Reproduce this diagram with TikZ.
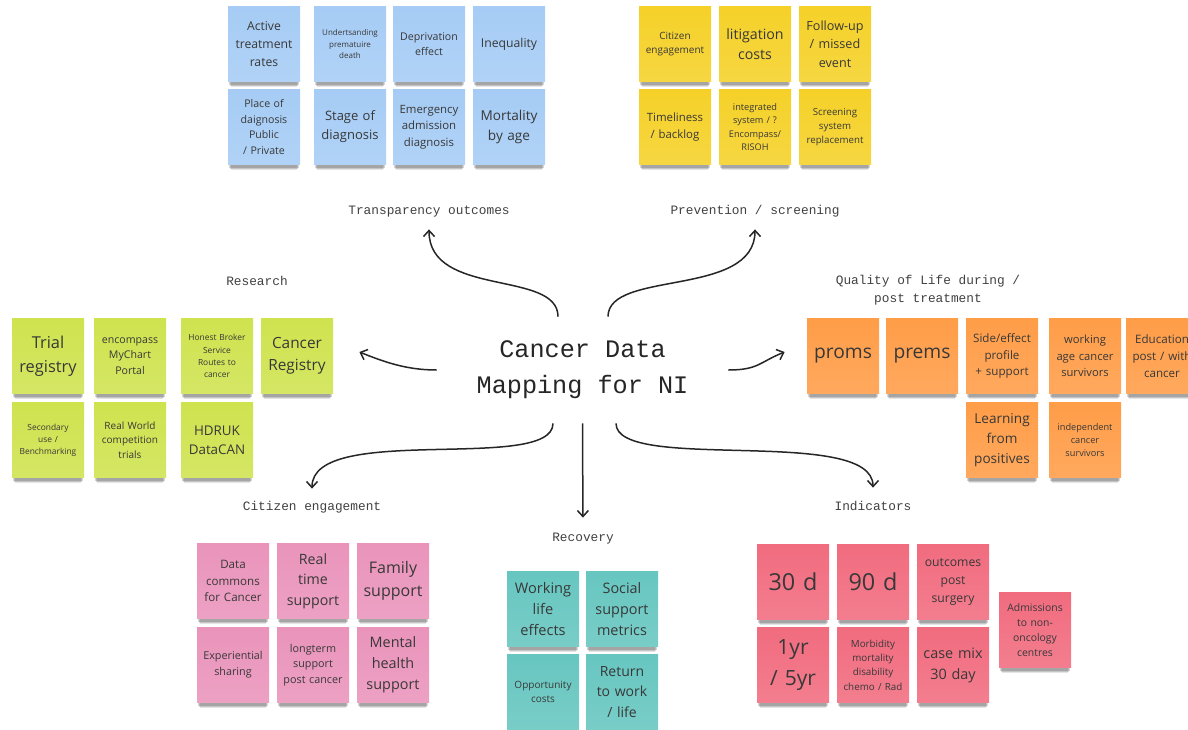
\documentclass[tikz,border=0pt]{standalone}
\usepackage{fontspec}
\setmainfont{Open Sans}
\newfontfamily\sketchfont{Liberation Mono}
\usepackage{tikz}
\usetikzlibrary{arrows.meta,shadows}

\definecolor{noteblue}{HTML}{A6CCF5}
\definecolor{noteyellow}{HTML}{F5D128}
\definecolor{notelime}{HTML}{CFE34F}
\definecolor{noteorange}{HTML}{FF9D48}
\definecolor{notepink}{HTML}{EA94BB}
\definecolor{noteteal}{HTML}{67C6C0}
\definecolor{notered}{HTML}{F16C7F}

% font size with matching line spacing
\newcommand{\notefont}[1]{\fontsize{#1}{\dimexpr#1pt*29/20\relax}\selectfont}

\begin{document}
\begin{tikzpicture}[
    x=0.5pt, y=-0.5pt,
    note/.style={rectangle, minimum width=36pt, minimum height=37.5pt, inner sep=0pt, text width=35pt, align=center, text=black!78,
        drop shadow={shadow xshift=0pt, shadow yshift=-2.2pt, shadow scale=0.97, opacity=0.16, fill=black},
        drop shadow={shadow xshift=0pt, shadow yshift=-3.4pt, shadow scale=0.94, opacity=0.14, fill=black},
        drop shadow={shadow xshift=0pt, shadow yshift=-4.6pt, shadow scale=0.91, opacity=0.10, fill=black}},
    blue note/.style={note, top color=noteblue, bottom color=noteblue!88!white},
    yellow note/.style={note, top color=noteyellow, bottom color=noteyellow!88!white},
    lime note/.style={note, top color=notelime, bottom color=notelime!88!white},
    orange note/.style={note, top color=noteorange, bottom color=noteorange!88!white},
    pink note/.style={note, top color=notepink, bottom color=notepink!88!white},
    teal note/.style={note, top color=noteteal, bottom color=noteteal!88!white},
    red note/.style={note, top color=notered, bottom color=notered!88!white},
    hub/.style={font=\sketchfont\fontsize{12.6}{18}\selectfont, text=black!85, align=center, minimum width=145.5pt, minimum height=53pt, inner sep=0pt},
    topic/.style={font=\sketchfont\fontsize{6.4}{9}\selectfont, text=black!75, align=center, inner sep=0pt},
    heading/.style={topic, text height=5pt, text depth=1.5pt},
    link/.style={line width=0.75pt, black!85, -{Straight Barb[length=3pt, width=5.5pt]}},
]
\useasboundingbox (0,0) rectangle (1188,729);
\clip (0,0) rectangle (1188,729);

% Centre and the branch headings
\node[hub] (title) at (582.5,370) {Cancer Data\\Mapping for NI};
\node[heading] (transp) at (429,211) {Transparency outcomes};
\node[heading] (prevent) at (755,211) {Prevention / screening};
\node[topic] (research) at (257,281) {Research};
\node[topic] (quality) at (928,290) {Quality of Life during /\\post treatment};
\node[heading] (citizen) at (312,507) {Citizen engagement};
\node[heading] (recovery) at (583,538) {Recovery};
\node[heading] (indic) at (873,507) {Indicators};

% Transparency outcomes
\node[blue note, font=\notefont{6.1}] (active) at (264,44) {Active\\treatment\\rates};
\node[blue note, font=\notefont{4.0}] (premature) at (350,44) {Undertsanding\\prematuire\\death};
\node[blue note, font=\notefont{5.3}] (depriv) at (429,44) {Deprivation\\effect};
\node[blue note, font=\notefont{6.1}] (inequal) at (509,44) {Inequality};
\node[blue note, font=\notefont{5.3}] (place) at (264,127) {Place of\\daignosis\\Public\\/ Private};
\node[blue note, font=\notefont{6.5}] (stage) at (350,127) {Stage of\\diagnosis};
\node[blue note, font=\notefont{5.7}] (emerg) at (429,127) {Emergency\\admission\\diagnosis};
\node[blue note, font=\notefont{6.8}] (mortage) at (509,127) {Mortality\\by age};

% Prevention / screening
\node[yellow note, font=\notefont{5.0}] (engage) at (675,44) {Citizen\\engagement};
\node[yellow note, font=\notefont{7.1}] (litig) at (755,44) {litigation\\costs};
\node[yellow note, font=\notefont{6.3}] (follow) at (835,44) {Follow-up\\/ missed\\event};
\node[yellow note, font=\notefont{5.7}] (timely) at (675,127) {Timeliness\\/ backlog};
\node[yellow note, font=\notefont{4.6}] (integ) at (755,127) {integrated\\system / ?\\Encompass/\\RISOH};
\node[yellow note, font=\notefont{4.85}] (screen) at (835,127) {Screening\\system\\replacement};

% Research
\node[lime note, font=\notefont{8.2}] (trial) at (48,356) {Trial\\registry};
\node[lime note, font=\notefont{5.3}] (mychart) at (130,356) {encompass\\MyChart\\Portal};
\node[lime note, font=\notefont{4.2}] (broker) at (217,356) {Honest Broker\\Service\\Routes to\\cancer};
\node[lime note, font=\notefont{7.7}] (registry) at (297,356) {Cancer\\Registry};
\node[lime note, font=\notefont{4.2}] (secondary) at (48,440) {Secondary\\use /\\Benchmarking};
\node[lime note, font=\notefont{5.0}] (realworld) at (130,440) {Real World\\competition\\trials};
\node[lime note, font=\notefont{6.7}] (hdruk) at (217,440) {HDRUK\\DataCAN};

% Quality of life
\node[orange note, font=\notefont{9.6}] (proms) at (843,356) {proms};
\node[orange note, font=\notefont{9.6}] (prems) at (922,356) {prems};
\node[orange note, font=\notefont{5.8}] (sideeff) at (1002,356) {Side/effect\\profile\\+ support};
\node[orange note, font=\notefont{5.6}] (workage) at (1085,356) {working\\age cancer\\survivors};
\node[orange note, font=\notefont{5.8}] (educ) at (1162,356) {Education\\post / with\\cancer};
\node[orange note, font=\notefont{6.8}] (learn) at (1002,440) {Learning\\from\\positives};
\node[orange note, font=\notefont{4.6}] (indep) at (1085,440) {independent\\cancer\\survivors};

% Citizen engagement
\node[pink note, font=\notefont{5.8}] (commons) at (233,581) {Data\\commons\\for Cancer};
\node[pink note, font=\notefont{7.1}] (realtime) at (313,581) {Real\\time\\support};
\node[pink note, font=\notefont{8.0}] (family) at (393,581) {Family\\support};
\node[pink note, font=\notefont{5.4}] (experient) at (233,665) {Experiential\\sharing};
\node[pink note, font=\notefont{5.4}] (longterm) at (313,665) {longterm\\support\\post cancer};
\node[pink note, font=\notefont{7.2}] (mental) at (393,665) {Mental\\health\\support};

% Recovery
\node[teal note, font=\notefont{7.3}] (worklife) at (543,609) {Working\\life\\effects};
\node[teal note, font=\notefont{7.2}] (social) at (622,609) {Social\\support\\metrics};
\node[teal note, font=\notefont{5.0}] (opport) at (543,692) {Opportunity\\costs};
\node[teal note, font=\notefont{7.0}] (return) at (622,692) {Return\\to work\\/ life};

% Indicators
\node[red note, font=\notefont{11.7}] (d30) at (793,582) {30 d};
\node[red note, font=\notefont{11.7}] (d90) at (873,582) {90 d};
\node[red note, font=\notefont{6.1}] (surgery) at (953,582) {outcomes\\post\\surgery};
\node[red note, font=\notefont{10.5}] (yr15) at (793,665) {1yr\\/ 5yr};
\node[red note, font=\notefont{4.9}] (morbid) at (873,665) {Morbidity\\mortality\\disability\\chemo / Rad};
\node[red note, font=\notefont{7.2}] (casemix) at (953,665) {case mix\\30 day};
\node[red note, font=\notefont{5.2}] (admiss) at (1035,630) {Admissions\\to non-\\oncology\\centres};

% Branches out of the centre
\draw[link, shorten >=5.75pt] ([xshift=-12.25pt]title.north) .. controls +(0,-47) and +(0,80) .. (transp.south);
\draw[link, shorten >=5.75pt] ([xshift=12.75pt]title.north) .. controls +(0,-47) and +(0,80) .. (prevent.south);
\draw[link] (title.west) .. controls +(-30,0) and +(25,10) .. ([xshift=13pt,yshift=2pt]registry.east);
\draw[link] (title.east) .. controls +(30,0) and +(-25,10) .. ([xshift=-11pt,yshift=2pt]proms.west);
\draw[link, shorten >=5.75pt] ([xshift=-14.75pt]title.south) .. controls +(0,50) and +(0,-78) .. (citizen.north);
\draw[link, shorten >=6.75pt] (title.south) -- (recovery.north);
\draw[link, shorten >=6.25pt] ([xshift=16.75pt]title.south) .. controls +(0,50) and +(0,-75) .. (indic.north);

\end{tikzpicture}
\end{document}
